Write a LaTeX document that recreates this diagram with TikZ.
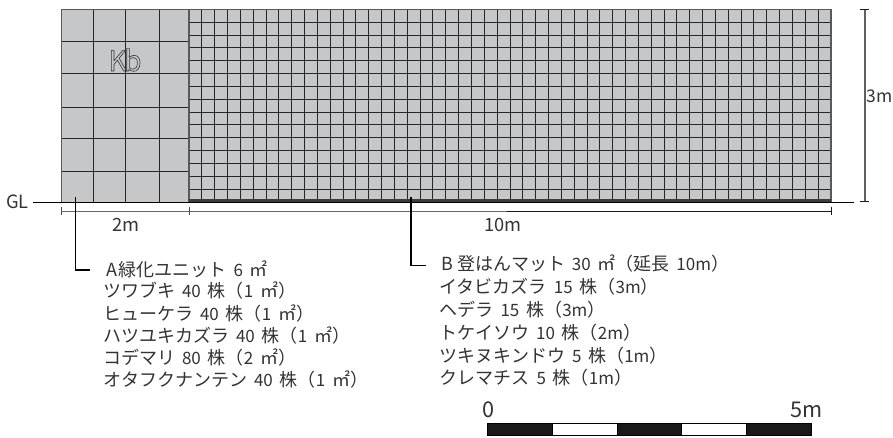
\documentclass[tikz,border=0pt]{standalone}
\usepackage{fontspec}
\setmainfont[WordSpace=1.7]{Noto Sans CJK JP}
\definecolor{panel}{HTML}{C6C7C9}
\definecolor{gridline}{HTML}{262626}
\definecolor{inkline}{HTML}{1A1A1A}
\definecolor{txt}{HTML}{333333}
\newcommand\dg[1]{{\fontsize{17}{17}\selectfont #1}}
\tikzset{
  x=1pt,y=-1pt,
  lab/.style={anchor=west,inner sep=0pt,text=txt,font=\fontsize{18}{18}\selectfont},
  dimlab/.style={anchor=center,inner sep=0pt,text=txt,font=\fontsize{18.3}{18.3}\selectfont},
  scalelab/.style={inner sep=0pt,text=txt,font=\fontsize{21.7}{21.7}\selectfont},
  leader/.style={draw=black,line width=1.4pt},
  dimline/.style={draw=inkline,line width=0.9pt},
  gridl/.style={draw=gridline,line width=1pt},
  bar/.style={draw=black,line width=0.9pt,minimum height=12.5pt,minimum width=64.7pt,inner sep=0pt,outer sep=0pt},
}
\begin{document}
\begin{tikzpicture}
\useasboundingbox (0,0) rectangle (893,437);
% wall panels
\fill[panel] (61.5,9.5) rectangle (831,202);
% fine mat grid
\foreach \i in {0,...,50}{\draw[gridl] ({189+\i*12.84},9.5) -- ({189+\i*12.84},202);}
\foreach \j in {0,...,15}{\draw[gridl] (189,{9.5+\j*12.83}) -- (831,{9.5+\j*12.83});}
% unit grid
\foreach \x in {93.5,125.5,159}{\draw[gridl] (\x,9.5) -- (\x,202);}
\foreach \y in {41,73,107,138,171}{\draw[gridl] (61.5,\y) -- (189,\y);}
\draw[draw=gray!70!black,line width=1.2pt] (61.5,202) -- (61.5,9.5) -- (189,9.5) (189,9.5) -- (189,202) (189,9.5) -- (831,9.5) -- (831,202);
\node[inner sep=0pt,text=txt,font=\fontsize{28}{28}\selectfont] (kb) at (125,60) {\special{pdf:code 1 Tr 0.6 w}K\kern-0.09em b\special{pdf:code 0 Tr}};
% ground line
\fill[gridline!90] (189,199) rectangle (831,202);
\node[dimlab,anchor=east] (gl) at (29,202) {GL};
\coordinate (glend) at (853.5,202.3);
\draw[draw=black,line width=1.3pt] (gl.east)+(4,0.3) -- (glend);
% horizontal dimensions
\coordinate (d0) at (61.5,211); \coordinate (d1) at (189,211); \coordinate (d2) at (831,211);
\draw[dimline] (d0) -- (d1) -- (d2);
\foreach \c in {d0,d1}{\draw[dimline,draw=gray!60!black] (\c)+(0,-4.5) -- +(0,3.5);}
\draw[dimline] (d2)+(0,-4.5) -- +(0,4);
\node[dimlab] (two) at (126,225) {2m};
\node[dimlab] (ten) at (503,225) {10m};
% height dimension
\coordinate (h0) at (865,9); \coordinate (h1) at (865,201.5);
\draw[draw=gray!75!black,line width=1.4pt] (h0) -- (h1);
\draw[draw=inkline,line width=0.9pt] (h0)+(-5,0) -- +(4,0);
\draw[draw=inkline,line width=0.9pt] (h1)+(-5,0) -- +(4,0);
\node[dimlab,anchor=east,font=\fontsize{17.5}{17.5}\selectfont] (three) at (892.5,96) {3m};
% unit list
\coordinate (at) at (75.5,197); \coordinate (ab) at (75.5,270); \coordinate (ae) at (90,270);
\draw[leader] (at) -- (ab) -- (ae);
\node[lab] (a0) at (106,269) {A\kern1.5pt 緑化ユニット \dg{6} ㎡};
\node[lab] (a1) at (103,291) {ツワブキ \dg{40} 株（\dg{1} ㎡）};
\node[lab] (a2) at (103,313.5) {ヒューケラ \dg{40} 株（\dg{1} ㎡）};
\node[lab] (a3) at (103,335.5) {ハツユキカズラ \dg{40} 株（\dg{1} ㎡）};
\node[lab] (a4) at (103,357.5) {コデマリ \dg{80} 株（\dg{2} ㎡）};
\node[lab] (a5) at (103,380) {オタフクナンテン \dg{40} 株（\dg{1} ㎡）};
% mat list
\coordinate (bt) at (411,197); \coordinate (bb) at (411,265.5); \coordinate (be) at (426,265.5);
\draw[leader] (bt) -- (bb) -- (be);
\node[lab] (b0) at (441,264) {B\kern4pt 登はんマット \dg{30} ㎡（延長 \dg{10m}）};
\node[lab] (b1) at (439.5,287) {イタビカズラ \dg{15} 株（\dg{3m}）};
\node[lab] (b2) at (439.5,310) {ヘデラ \dg{15} 株（\dg{3m}）};
\node[lab] (b3) at (439.5,332.5) {トケイソウ \dg{10} 株（\dg{2m}）};
\node[lab] (b4) at (439.5,355.5) {ツキヌキンドウ \dg{5} 株（\dg{1m}）};
\node[lab] (b5) at (439.5,378) {クレマチス \dg{5} 株（\dg{1m}）};
% scale bar
\node[bar,fill=black!90,anchor=north west] (s1) at (487.8,423) {};
\node[bar,fill=white,anchor=west] (s2) at (s1.east) {};
\node[bar,fill=black!90,anchor=west] (s3) at (s2.east) {};
\node[bar,fill=white,anchor=west] (s4) at (s3.east) {};
\node[bar,fill=black!90,anchor=west] (s5) at (s4.east) {};
\node[scalelab,anchor=center] (zero) at (489,410) {0};
\node[scalelab,anchor=east] (five) at (822.5,410) {5m};
\end{tikzpicture}
\end{document}
